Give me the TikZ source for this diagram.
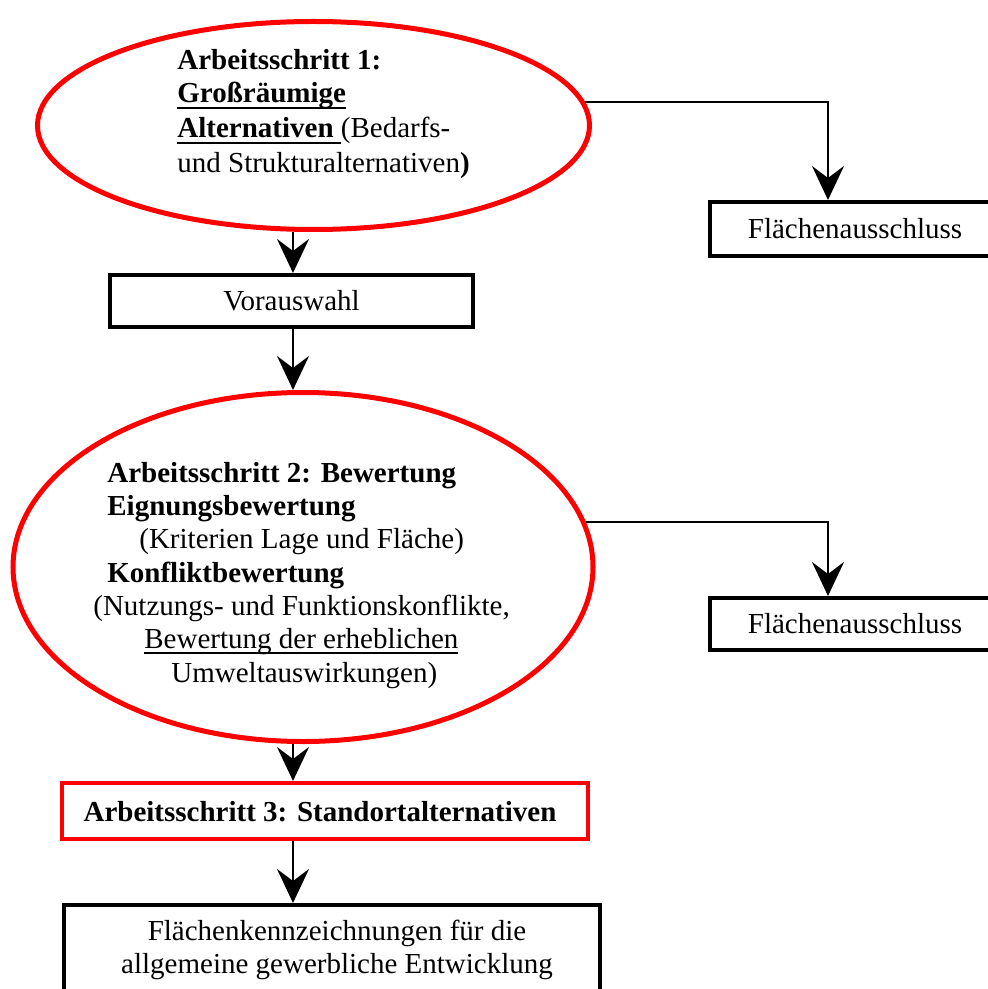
\documentclass[tikz,border=0pt]{standalone}
\usepackage{fontspec}
\setmainfont{Liberation Serif}
\usetikzlibrary{arrows.meta,shapes.geometric}
\newsavebox{\myulbox}
\newcommand{\myul}[2][0.8pt]{\sbox{\myulbox}{#2}\rlap{\rule[-3pt]{\wd\myulbox}{#1}}\usebox{\myulbox}}
\tikzset{
  ell/.style={ellipse, draw=red, line width=2.5pt, fill=white, inner sep=0pt},
  blackbox/.style={rectangle, draw=black, line width=2pt, inner sep=0pt, fill=white},
  redbox/.style={rectangle, draw=red, line width=2pt, inner sep=0pt, fill=white},
  conn/.style={line width=1pt, -{Stealth[length=17pt,width=16pt,inset=6pt]}},
  ltxt/.style={inner sep=0pt, anchor=base west},
  ctxt/.style={inner sep=0pt, anchor=base},
}
\begin{document}
\begin{tikzpicture}[x=0.5pt,y=-0.5pt,font=\fontsize{14.5pt}{17pt}\selectfont]
\useasboundingbox (0,0) rectangle (988,989);
\clip (0,0) rectangle (988,989);
% ellipses
\node[ell, minimum width=276pt, minimum height=104pt] (e1) at (313.5,125.5) {};
\node[ell, minimum width=290pt, minimum height=174.5pt] (e2) at (303,567) {};
% boxes
\node[blackbox, minimum width=181.5pt, minimum height=26pt] (v) at (291.5,301) {Vorauswahl};
\node[blackbox, minimum width=145pt, minimum height=27pt] (f1) at (855,229) {Flächenausschluss};
\node[blackbox, minimum width=145pt, minimum height=26pt] (f2) at (855,624) {Flächenausschluss};
\node[redbox, minimum width=263pt, minimum height=28pt] (b3) at (325,811) {};
\node[blackbox, minimum width=268pt, minimum height=52.5pt] (b4) at (332,957.5) {};
% box 3 text
\node[ctxt] (t3) at (320,821) {\bfseries Arbeitsschritt 3: Standortalternativen};
% ellipse 1 text
\node[ltxt] (t1a) at (177,70) {\bfseries Arbeitsschritt 1:};
\node[ltxt] (t1b) at (177,103) {\bfseries\myul[1pt]{Großräumige}};
\node[ltxt] (t1c) at (177,138) {\bfseries\myul[1pt]{Alternativen }\mdseries(Bedarfs-};
\node[ltxt] (t1d) at (177,173) {und Strukturalternativen\textbf{)}};
% ellipse 2 text
\node[ltxt] (t2a) at (107,482) {\bfseries Arbeitsschritt 2: Bewertung};
\node[ltxt] (t2b) at (107,515) {\bfseries Eignungsbewertung};
\node[ltxt] (t2c) at (139,548) {(Kriterien Lage und Fläche)};
\node[ltxt] (t2d) at (107,582) {\bfseries Konfliktbewertung};
\node[ltxt] (t2e) at (93,615) {(Nutzungs- und Funktionskonflikte,};
\node[ltxt] (t2f) at (144,648) {\myul{Bewertung der erheblichen}};
\node[ltxt] (t2g) at (171,682) {Umweltauswirkungen)};
% box 4 text
\node[ctxt] (t4a) at (337,940) {Flächenkennzeichnungen für die};
\node[ctxt] (t4b) at (337,973) {allgemeine gewerbliche Entwicklung};
% connectors
\coordinate (ax) at (293,0);
\coordinate (rx) at (828,0);
\draw[conn] (e1.5) -| (rx |- f1.north);
\draw[conn] (ax |- e1.south) -- (ax |- v.north);
\draw[conn] (ax |- v.south) -- (ax |- e2.north);
\draw[conn] (e2.9) -| (rx |- f2.north);
\draw[conn] (ax |- e2.south) -- (ax |- b3.north);
\draw[conn] (ax |- b3.south) -- (ax |- b4.north);
\end{tikzpicture}
\end{document}
